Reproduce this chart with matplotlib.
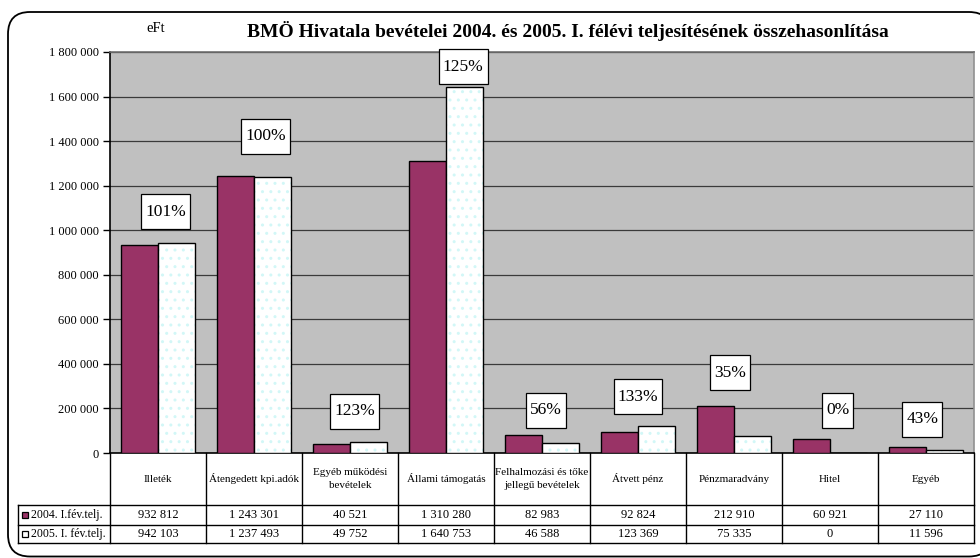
import matplotlib.pyplot as plt
from matplotlib.patches import FancyBboxPatch, Rectangle
from matplotlib.transforms import IdentityTransform
import numpy as np

plt.rcParams['font.family'] = ['Liberation Serif', 'DejaVu Serif']

categories = ["Illeték", "Átengedett kpi.adók", "Egyéb működési\nbevételek",
              "Állami támogatás", "Felhalmozási és tőke\njellegű bevételek",
              "Átvett pénz", "Pénzmaradvány", "Hitel", "Egyéb"]
values_2004 = [932812, 1243301, 40521, 1310280, 82983, 92824, 212910, 60921, 27110]
values_2005 = [942103, 1237493, 49752, 1640753, 46588, 123369, 75335, 0, 11596]
series_labels = ["2004. I.fév.telj.", "2005. I. fév.telj."]
yticks = np.arange(0, 1800001, 200000)

# where the percent boxes sit: shift in category units and centre height in eFt
label_dx = [0.08, 0.12, 0.05, 0.18, 0.04, 0.0, -0.04, 0.08, -0.04]
label_y = [1084000, 1420700, 186300, 1734900, 193000, 253600, 361300, 193000, 150400]

MAROON = '#993366'
W, H = 980, 558


def fmt(v):
    return f"{v:,}".replace(",", " ")


fig = plt.figure(figsize=(W / 100, H / 100), dpi=100)

# rounded frame round the whole chart
frame = FancyBboxPatch((0.08, 0.015), 9.83, 5.445,
                       boxstyle='round,pad=0,rounding_size=0.22',
                       transform=fig.dpi_scale_trans, fc='white', ec='black',
                       lw=1.3, zorder=-10)
fig.add_artist(frame)

fig.text(568 / W, 1 - 31 / H, "BMÖ Hivatala bevételei 2004. és 2005. I. félévi teljesítésének összehasonlítása",
         ha='center', va='center', fontsize=14, fontweight='bold')
fig.text(156 / W, 1 - 28 / H, "eFt", ha='center', va='center', fontsize=10.5)

# main chart
ax = fig.add_axes([110 / W, 1 - 453 / H, 864 / W, 401 / H])
x = np.arange(len(categories))
w = 0.39
ax.bar(x - w / 2, values_2004, w, color=MAROON, edgecolor='black', lw=1, zorder=3)
ax.bar(x + w / 2, values_2005, w, color='white', edgecolor='#d2f7f7', hatch='..', lw=0, zorder=3)
ax.bar(x + w / 2, values_2005, w, fill=False, edgecolor='black', lw=1, zorder=4)

ax.set_xlim(-0.5, len(categories) - 0.5)
ax.set_ylim(0, 1800000)
ax.set_facecolor('#c0c0c0')
ax.set_yticks(yticks)
ax.set_yticklabels([fmt(v) for v in yticks], fontsize=9)
ax.set_xticks([])
ax.tick_params(axis='y', direction='out', length=5, width=1, pad=3)
ax.yaxis.grid(True, color='#3a3a3a', lw=0.9)
ax.set_axisbelow(True)
ax.spines['left'].set_color('black')
ax.spines['bottom'].set_color('black')
ax.spines['top'].set_color('#707070')
ax.spines['right'].set_color('#909090')
for s in ax.spines.values():
    s.set_linewidth(1.2)

pct_texts = []
for i in range(len(categories)):
    pct = round(values_2005[i] / values_2004[i] * 100)
    t = ax.text(x[i] + label_dx[i], label_y[i], f"{pct}%", ha='center', va='center',
                fontsize=12.5, zorder=7)
    pct_texts.append(t)

fig.canvas.draw()
renderer = fig.canvas.get_renderer()
for t in pct_texts:
    bb = t.get_window_extent(renderer)
    cy = (bb.y0 + bb.y1) / 2
    rect = Rectangle((bb.x0 - 4, cy - 17.5), bb.width + 8, 35, transform=IdentityTransform(),
                     fc='white', ec='black', lw=0.9, zorder=6, clip_on=False)
    ax.add_artist(rect)

# data table underneath
px = 1 / 96  # one pixel in category units
legend_w = 92 * px
tab = fig.add_axes([18 / W, 1 - 543 / H, 956 / W, 90 / H])
xl = -0.5 - legend_w
tab.set_xlim(xl, len(categories) - 0.5)
tab.set_ylim(90, 0)
tab.axis('off')

rows = [52, 72, 90]
for r in rows:
    tab.plot([xl, len(categories) - 0.5], [r, r], color='black', lw=1, clip_on=False)
for b in np.arange(len(categories) + 1) - 0.5:
    tab.plot([b, b], [0, 90], color='black', lw=1, clip_on=False)
tab.plot([xl, xl], [52, 90], color='black', lw=1, clip_on=False)

for i, c in enumerate(categories):
    tab.text(i, 26, c, ha='center', va='center', fontsize=8, linespacing=1.5)
    tab.text(i, 62, fmt(values_2004[i]), ha='center', va='center', fontsize=9)
    tab.text(i, 81, fmt(values_2005[i]), ha='center', va='center', fontsize=9)

for r, lab, col in zip([62, 81], series_labels, [MAROON, 'white']):
    tab.add_patch(Rectangle((xl + 4 * px, r - 3), 6 * px, 6, fc=col, ec='black', lw=0.9,
                            clip_on=False))
    tab.text(xl + 13 * px, r, lab, ha='left', va='center', fontsize=8.5)

fig.savefig('out.png', dpi=100)
